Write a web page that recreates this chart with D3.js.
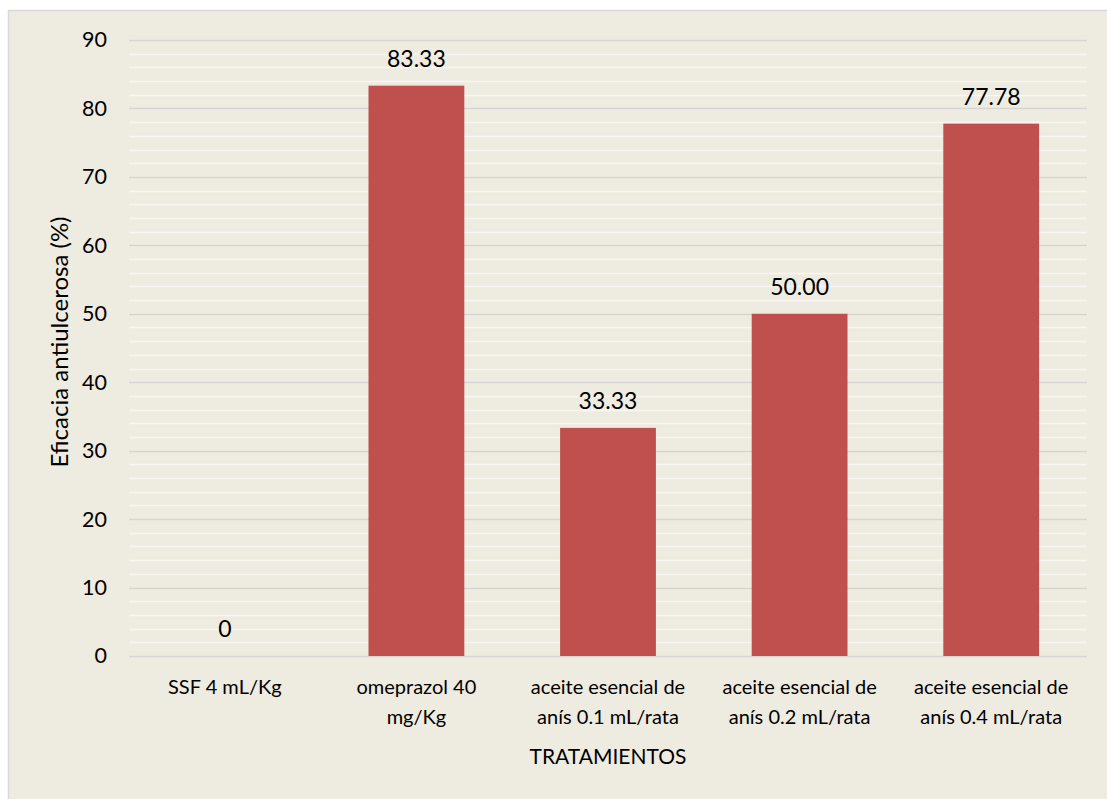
<!DOCTYPE html>
<html>
<head>
<meta charset="utf-8">
<script src="https://cdn.jsdelivr.net/npm/d3@7"></script>
<style>
  html, body { margin: 0; padding: 0; background: #fff; }
  text { font-family: Lato, "Open Sans", sans-serif; fill: #000; }
</style>
</head>
<body>
<svg id="chart" width="1107" height="799"></svg>
<script>
// chart data
const categories = [
  ['SSF 4 mL/Kg'],
  ['omeprazol 40', 'mg/Kg'],
  ['aceite esencial de', 'anís 0.1 mL/rata'],
  ['aceite esencial de', 'anís 0.2 mL/rata'],
  ['aceite esencial de', 'anís 0.4 mL/rata'],
];
const values = [0, 83.33, 33.33, 50.00, 77.78];
const valueLabels = ['0', '83.33', '33.33', '50.00', '77.78'];
const majorTicks = [0, 10, 20, 30, 40, 50, 60, 70, 80, 90];
const minorTicks = d3.range(0, 91, 2).filter((v) => v % 10 !== 0);

const width = 1107;
const height = 799;
const margin = { top: 40, right: 20, bottom: 143, left: 129 };
const plotRight = 1087;

const svg = d3.select('#chart');

// chart area background + border
svg.append('rect')
  .attr('x', 8.5)
  .attr('y', 10.5)
  .attr('width', width + 10)
  .attr('height', height + 10)
  .attr('fill', '#EEEBE1')
  .attr('stroke', '#D9D9D9')
  .attr('stroke-width', 1.5);

const x = d3.scaleBand()
  .domain(d3.range(categories.length))
  .range([margin.left, plotRight])
  .paddingInner(0.5)
  .paddingOuter(0.25);

const y = d3.scaleLinear()
  .domain([0, 90])
  .range([height - margin.bottom, margin.top]);

// minor gridlines
svg.append('g')
  .selectAll('line')
  .data(minorTicks)
  .join('line')
    .attr('x1', margin.left)
    .attr('x2', plotRight)
    .attr('y1', (d) => Math.round(y(d)) + 0.5)
    .attr('y2', (d) => Math.round(y(d)) + 0.5)
    .attr('stroke', '#F7F6F2')
    .attr('stroke-width', 1.5);

// major gridlines
svg.append('g')
  .selectAll('line')
  .data(majorTicks)
  .join('line')
    .attr('x1', margin.left)
    .attr('x2', plotRight)
    .attr('y1', (d) => Math.round(y(d)) + 0.5)
    .attr('y2', (d) => Math.round(y(d)) + 0.5)
    .attr('stroke', '#D5D5D3')
    .attr('stroke-width', 1.5);

// bars
svg.append('g')
  .selectAll('rect')
  .data(values)
  .join('rect')
    .attr('x', (d, i) => x(i))
    .attr('y', (d) => y(d))
    .attr('width', x.bandwidth())
    .attr('height', (d) => y(0) - y(d))
    .attr('fill', '#C0504D');

// value labels
svg.append('g')
  .selectAll('text')
  .data(values)
  .join('text')
    .attr('x', (d, i) => x(i) + x.bandwidth() / 2)
    .attr('y', (d) => y(d) - 19)
    .attr('text-anchor', 'middle')
    .attr('font-size', 23)
    .text((d, i) => valueLabels[i]);

// y axis
const yAxis = svg.append('g')
  .attr('transform', `translate(${margin.left},0)`)
  .call(d3.axisLeft(y).tickValues(majorTicks).tickSize(0).tickPadding(22));
yAxis.select('.domain').remove();
yAxis.selectAll('text')
  .attr('font-size', 21.5)
  .attr('font-family', 'Lato, "Open Sans", sans-serif')
  .attr('fill', '#000');

// x axis labels
const xLabels = svg.append('g')
  .selectAll('text')
  .data(categories)
  .join('text')
    .attr('x', (d, i) => x(i) + x.bandwidth() / 2)
    .attr('y', 694)
    .attr('text-anchor', 'middle')
    .attr('font-size', 20);
xLabels.selectAll('tspan')
  .data((d) => d)
  .join('tspan')
    .attr('x', function () { return d3.select(this.parentNode).attr('x'); })
    .attr('dy', (d, i) => (i === 0 ? 0 : 30))
    .text((d) => d);

// axis titles
svg.append('text')
  .attr('x', (margin.left + plotRight) / 2)
  .attr('y', 764)
  .attr('text-anchor', 'middle')
  .attr('font-size', 21)
  .text('TRATAMIENTOS');

svg.append('text')
  .attr('transform', 'translate(68,342) rotate(-90)')
  .attr('text-anchor', 'middle')
  .attr('font-size', 24)
  .text('Eficacia antiulcerosa (%)');
</script>
</body>
</html>
